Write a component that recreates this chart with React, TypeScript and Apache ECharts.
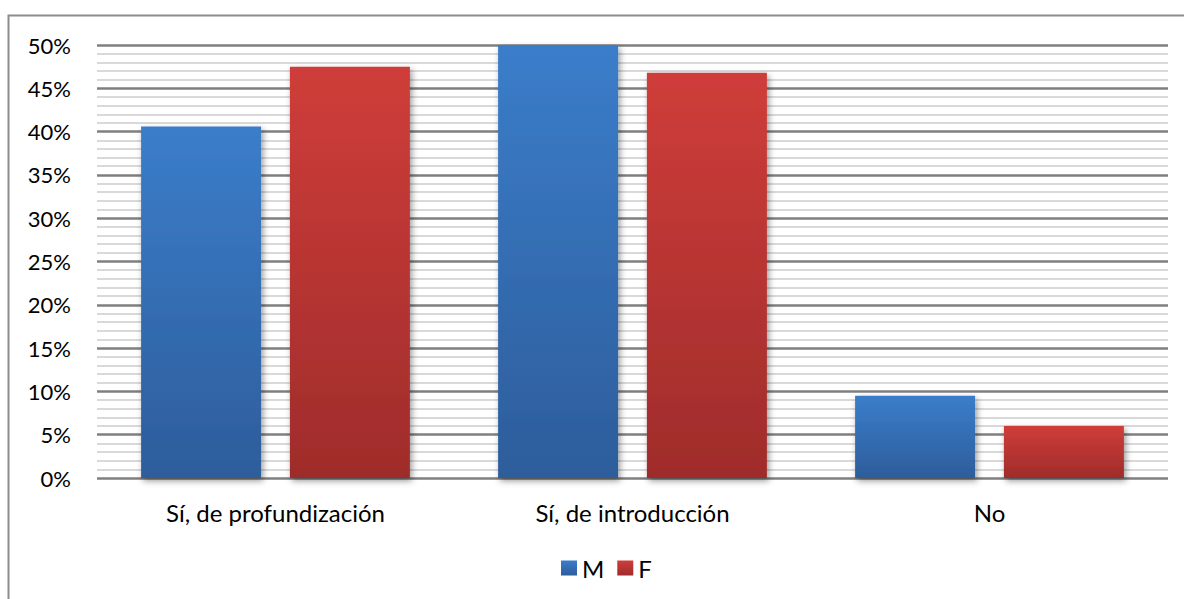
import React, { useEffect, useRef } from "react";
import * as echarts from "echarts";

const categories = ["Sí, de profundización", "Sí, de introducción", "No"];
const seriesM = [40.6, 50.0, 9.5];
const seriesF = [47.5, 46.8, 6.0];
const seriesNames = ["M", "F"];

const FONT = "Lato, 'Liberation Sans', sans-serif";

export default function App() {
  const ref = useRef<HTMLDivElement>(null);
  useEffect(() => {
    const chart = echarts.init(ref.current!, null, { renderer: "svg" });
    const grad = (top: string, bottom: string) =>
      new echarts.graphic.LinearGradient(0, 0, 0, 1, [
        { offset: 0, color: top },
        { offset: 1, color: bottom },
      ]);
    const barBase = {
      type: "bar" as const,
      barWidth: 120,
      barGap: "24%",
    };
    chart.setOption({
      animation: false,
      backgroundColor: "#ffffff",
      textStyle: { fontFamily: FONT },
      graphic: [
        {
          type: "rect",
          shape: { x: 8.5, y: 15.5, width: 1300, height: 700 },
          style: { fill: "none", stroke: "#8c8c8c", lineWidth: 2 },
          silent: true,
          z: 0,
        },
      ],
      grid: { left: 97, right: 16, top: 45, bottom: 121, containLabel: false },
      legend: {
        data: seriesNames,
        top: 551,
        left: 556,
        icon: "rect",
        itemWidth: 16,
        itemHeight: 15,
        itemGap: 13,
        textStyle: { fontSize: 24, color: "#000", fontFamily: FONT },
      },
      xAxis: {
        type: "category",
        data: categories,
        axisLine: { show: false },
        axisTick: { show: false },
        axisLabel: { fontSize: 24, color: "#000", margin: 22, fontFamily: FONT },
      },
      yAxis: {
        type: "value",
        min: 0,
        max: 50,
        interval: 5,
        axisLine: { show: false },
        axisTick: { show: false },
        axisLabel: {
          formatter: "{value}%",
          fontSize: 22,
          color: "#000",
          margin: 26,
          fontFamily: FONT,
        },
        splitLine: {
          show: true,
          lineStyle: {
            color: "#7f7f7f",
            width: 2.5,
          },
        },
        minorTick: { show: false, splitNumber: 5 },
        minorSplitLine: {
          show: true,
          lineStyle: { color: "#d9d9d9", width: 2 },
        },
      },
      series: [
        {
          ...barBase,
          name: seriesNames[0],
          data: seriesM,
          itemStyle: {
            color: grad("#3b7dca", "#2d5d9b"),
            shadowColor: "rgba(0,0,0,0.4)",
            shadowBlur: 6,
            shadowOffsetX: 2,
            shadowOffsetY: 3,
          },
        },
        {
          ...barBase,
          name: seriesNames[1],
          data: seriesF,
          itemStyle: {
            color: grad("#cf3d3a", "#9f2c2b"),
            shadowColor: "rgba(0,0,0,0.4)",
            shadowBlur: 6,
            shadowOffsetX: 2,
            shadowOffsetY: 3,
          },
        },
      ],
    });
    return () => chart.dispose();
  }, []);
  return (
    <div
      ref={ref}
      style={{ position: "fixed", left: 0, top: 0, width: 1184, height: 599 }}
    />
  );
}
